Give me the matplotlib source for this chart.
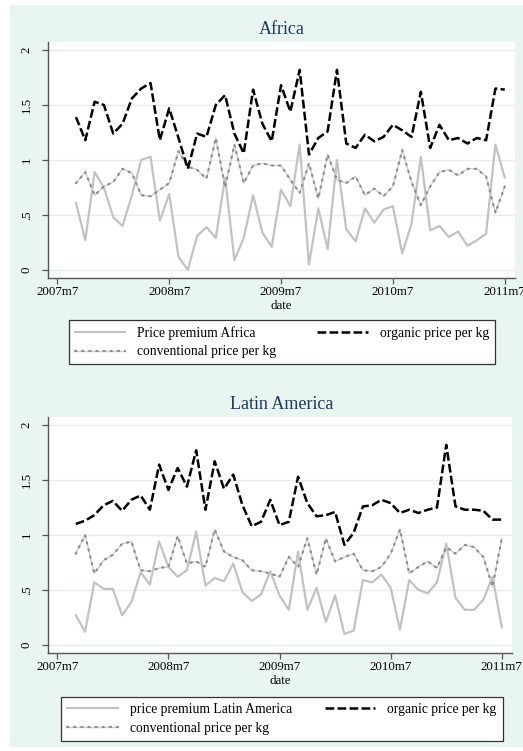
"""Organic vs conventional price per kg, Africa and Latin America, 2007m9-2011m7."""

import matplotlib

matplotlib.use("Agg")
import matplotlib.pyplot as plt
import pandas as pd
from matplotlib.legend_handler import HandlerTuple
from matplotlib.lines import Line2D
from matplotlib.patches import Rectangle

# monthly dates, 2007m9 .. 2011m7
dates = pd.period_range("2007-09", "2011-07", freq="M")
tick_dates = pd.period_range("2007-07", "2011-07", freq="12M")
tick_labels = ["2007m7", "2008m7", "2009m7", "2010m7", "2011m7"]
y_ticks = [0, 0.5, 1, 1.5, 2]
y_tick_labels = ["0", ".5", "1", "1.5", "2"]

africa_organic = [
    1.39, 1.18, 1.53, 1.50, 1.24, 1.33, 1.56, 1.65, 1.70, 1.18, 1.47, 1.20,
    0.92, 1.24, 1.21, 1.50, 1.59, 1.24, 1.06, 1.64, 1.33, 1.17, 1.68, 1.44,
    1.82, 1.05, 1.20, 1.26, 1.82, 1.15, 1.11, 1.23, 1.17, 1.21, 1.32, 1.27,
    1.21, 1.62, 1.11, 1.32, 1.18, 1.20, 1.15, 1.20, 1.18, 1.65, 1.64,
]
africa_conventional = [
    0.79, 0.89, 0.68, 0.76, 0.80, 0.92, 0.88, 0.68, 0.67, 0.73, 0.79, 1.08,
    0.94, 0.91, 0.83, 1.20, 0.75, 1.14, 0.79, 0.95, 0.97, 0.95, 0.95, 0.82,
    0.70, 0.97, 0.65, 1.05, 0.82, 0.79, 0.85, 0.68, 0.74, 0.67, 0.76, 1.09,
    0.80, 0.59, 0.76, 0.89, 0.91, 0.86, 0.92, 0.92, 0.85, 0.52, 0.76,
]
africa_premium = [
    0.61, 0.27, 0.89, 0.75, 0.48, 0.40, 0.68, 1.00, 1.03, 0.45, 0.69, 0.12,
    0.00, 0.31, 0.39, 0.29, 0.84, 0.09, 0.29, 0.68, 0.34, 0.21, 0.73, 0.58,
    1.14, 0.05, 0.56, 0.19, 1.00, 0.37, 0.26, 0.56, 0.43, 0.55, 0.58, 0.15,
    0.42, 1.03, 0.36, 0.40, 0.30, 0.35, 0.22, 0.27, 0.33, 1.14, 0.84,
]

latam_organic = [
    1.10, 1.13, 1.18, 1.27, 1.31, 1.22, 1.32, 1.36, 1.23, 1.64, 1.41, 1.61,
    1.44, 1.77, 1.23, 1.67, 1.42, 1.55, 1.27, 1.08, 1.12, 1.32, 1.09, 1.12,
    1.53, 1.29, 1.17, 1.18, 1.21, 0.91, 1.02, 1.26, 1.27, 1.32, 1.29, 1.20,
    1.23, 1.20, 1.23, 1.25, 1.82, 1.26, 1.23, 1.23, 1.22, 1.14, 1.14,
]
latam_conventional = [
    0.83, 1.00, 0.65, 0.77, 0.82, 0.92, 0.94, 0.68, 0.67, 0.70, 0.71, 0.99,
    0.74, 0.76, 0.71, 1.05, 0.85, 0.80, 0.77, 0.68, 0.67, 0.65, 0.62, 0.80,
    0.71, 0.97, 0.64, 0.97, 0.76, 0.80, 0.83, 0.68, 0.67, 0.71, 0.83, 1.05,
    0.65, 0.71, 0.76, 0.70, 0.89, 0.83, 0.91, 0.89, 0.80, 0.53, 0.97,
]
latam_premium = [
    0.27, 0.12, 0.57, 0.51, 0.51, 0.27, 0.39, 0.66, 0.55, 0.94, 0.71, 0.62,
    0.68, 1.03, 0.54, 0.61, 0.58, 0.74, 0.48, 0.40, 0.46, 0.67, 0.45, 0.32,
    0.85, 0.32, 0.52, 0.21, 0.45, 0.10, 0.13, 0.59, 0.57, 0.64, 0.52, 0.14,
    0.59, 0.50, 0.47, 0.57, 0.92, 0.43, 0.32, 0.32, 0.41, 0.62, 0.16,
]

W, H = 523, 751
BG = "#e9f5f1"
TITLE_COLOR = "#1f3a5f"
PREMIUM_COLOR = "#c2c2c2"
CONV_LIGHT = "#cdcdcd"
CONV_DOT = "#8e8e8e"
DOTS = (0, (0.6, 2.6))
DASHES = (0, (3.5, 1.3))

plt.rcParams["font.family"] = ["Liberation Serif", "DejaVu Serif"]


def px_box(left, top, right, bottom):
    """Convert a pixel box (from top-left) into figure fractions."""
    return [left / W, 1 - bottom / H, (right - left) / W, (bottom - top) / H]


def draw_panel(fig, box, title, title_y, premium, organic, conventional,
               premium_label, legend_top, colspace):
    ax = fig.add_axes(px_box(*box))
    ax.set_facecolor("white")
    x = [d.ordinal for d in dates]

    for y in y_ticks:
        ax.axhline(y, color="#e4eeec", lw=1.0, zorder=0)

    ax.plot(x, premium, color=PREMIUM_COLOR, lw=1.6, zorder=2)
    ax.plot(x, conventional, color=CONV_LIGHT, lw=1.0, zorder=3)
    ax.plot(x, conventional, color=CONV_DOT, lw=1.6, linestyle=DOTS,
            dash_capstyle="round", zorder=3)
    ax.plot(x, organic, color="black", lw=1.8, linestyle=DASHES, zorder=4)

    t0 = tick_dates[0].ordinal
    ax.set_xlim(t0 - 1.0, t0 + 49.1)
    ax.set_ylim(-0.073, 2.073)
    ax.set_xticks([d.ordinal for d in tick_dates])
    ax.set_xticklabels(tick_labels, fontsize=9.3)
    ax.set_yticks(y_ticks)
    ax.set_yticklabels(y_tick_labels, fontsize=9.3, rotation=90, va="center")
    ax.tick_params(axis="x", length=4, width=0.9, color="#555555", pad=2)
    ax.tick_params(axis="y", length=4, width=0.9, color="#555555", pad=7)
    ax.set_xlabel("date", fontsize=9.3, labelpad=1)

    for side in ["top", "right"]:
        ax.spines[side].set_visible(False)
    for side in ["left", "bottom"]:
        ax.spines[side].set_color("#555555")
        ax.spines[side].set_linewidth(1.0)

    fig.text(282 / W, 1 - title_y / H, title, ha="center", va="center",
             fontsize=13, color=TITLE_COLOR)

    h_prem = Line2D([], [], color=PREMIUM_COLOR, lw=1.6)
    h_conv = (Line2D([], [], color=CONV_LIGHT, lw=1.0),
              Line2D([], [], color=CONV_DOT, lw=1.6, linestyle=DOTS,
                     dash_capstyle="round"))
    h_org = Line2D([], [], color="black", lw=1.8, linestyle=DASHES)
    leg = fig.legend(
        handles=[h_prem, h_conv, h_org],
        labels=[premium_label, "conventional price per kg", "organic price per kg"],
        handler_map={tuple: HandlerTuple(ndivide=1)},
        ncol=2,
        loc="upper center",
        bbox_to_anchor=(282 / W, 1 - legend_top / H),
        fontsize=9.8,
        frameon=True,
        fancybox=False,
        edgecolor="#333333",
        framealpha=1,
        handlelength=3.7,
        handletextpad=0.9,
        columnspacing=colspace,
        labelspacing=0.4,
        borderpad=0.45,
        borderaxespad=0,
    )
    leg.get_frame().set_linewidth(0.9)
    return ax


fig = plt.figure(figsize=(W / 100, H / 100), dpi=100, facecolor="white")
fig.patches.append(Rectangle((10 / W, 4 / H), 1 - 10 / W, 1 - 9 / H,
                             transform=fig.transFigure, facecolor=BG,
                             edgecolor="none", zorder=-10))

draw_panel(fig, (48, 42, 515, 278), "Africa", 29, africa_premium, africa_organic,
           africa_conventional, "Price premium Africa", 320, 3.0)
draw_panel(fig, (48, 417, 512, 653), "Latin America", 405, latam_premium, latam_organic,
           latam_conventional, "price premium Latin America", 697, 2.4)

fig.savefig("out.png", dpi=100, facecolor="white")
plt.close()
